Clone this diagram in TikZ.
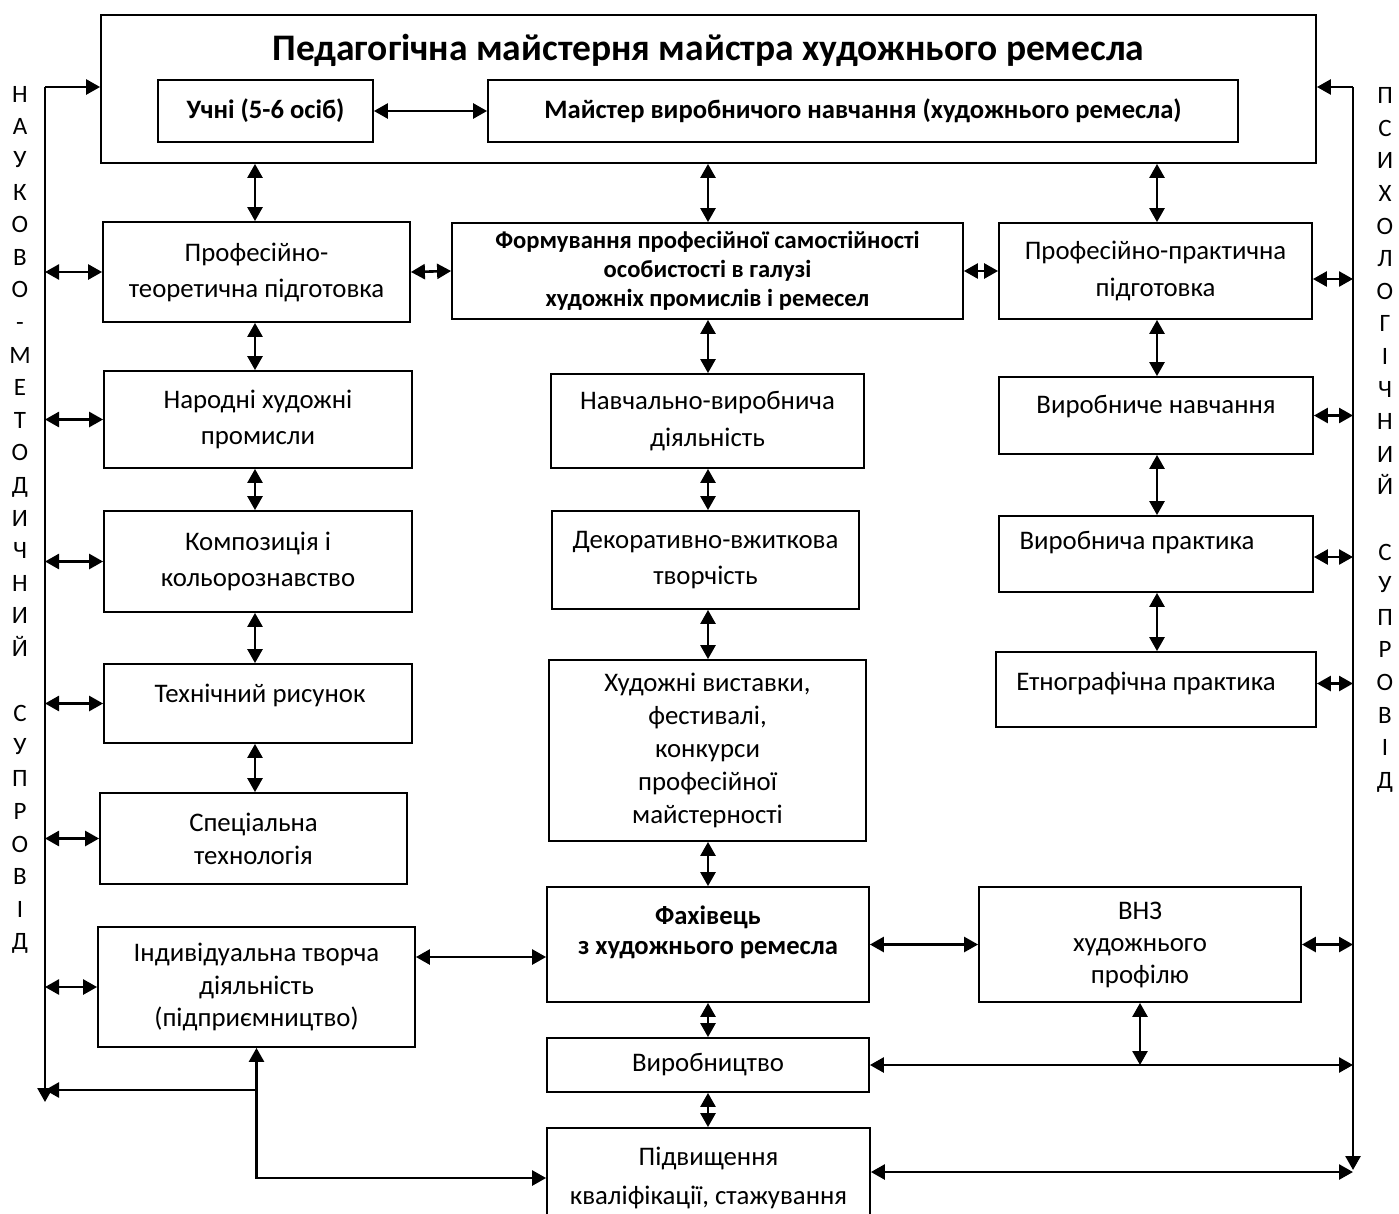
\documentclass[tikz,border=0pt]{standalone}
\usepackage{fontspec}
\setmainfont{Carlito}
\usetikzlibrary{arrows.meta}
\newcommand\fsz[2]{\fontsize{#1}{#2}\selectfont}
\begin{document}
\begin{tikzpicture}[x=1pt,y=-1pt,
  box/.style={draw, line width=1.8pt, inner sep=0pt, align=center, font=\fsz{26.8}{36}},
  bbox/.style={box, font=\bfseries\fsz{26.6}{30}},
  txt/.style={inner sep=0pt, align=center, font=\fsz{26.8}{36}},
  dbl/.style={{Triangle[length=14pt,width=15pt]}-{Triangle[length=14pt,width=15pt]}, line width=2.6pt},
  arr/.style={-{Triangle[length=14pt,width=15pt]}, line width=2.6pt},
  side/.style={inner sep=0pt, align=center, font=\fsz{25}{32.6}}
]
\useasboundingbox (0,0) rectangle (1399,1213);

% top block
\node[box, minimum width=1215pt, minimum height=148pt] (outer) at (708.5,89) {};
\node[inner sep=0pt, font=\bfseries\fsz{37.5}{40}] (title) at (708.5,50) {Педагогічна майстерня майстра художнього ремесла};
\node[bbox, minimum width=215pt, minimum height=62pt] (uchni) at (265.5,111) {Учні (5-6 осіб)};
\node[bbox, minimum width=750pt, minimum height=62pt] (mayster) at (863,111) {Майстер виробничого навчання (художнього ремесла)};

% left column
\node[box, minimum width=307pt, minimum height=100pt] (profteor) at (256.5,272) {Професійно-\\теоретична підготовка};
\node[box, minimum width=308pt, minimum height=97pt] (narod) at (258,419.5) {Народні художні\\промисли};
\node[box, minimum width=308pt, minimum height=101pt] (komp) at (258,561.5) {Композиція і\\кольорознавство};
\node[box, minimum width=308pt, minimum height=79pt] (tekhn) at (258,703.5) {};
\node[txt] (tekhnt) at (260,695) {Технічний рисунок};
\node[box, minimum width=307pt, minimum height=91pt, font=\fsz{26.8}{33}] (spec) at (253.5,838.5) {Спеціальна\\технологія};
\node[box, minimum width=317pt, minimum height=120pt, font=\fsz{26.8}{32.5}] (indiv) at (256.5,987) {Індивідуальна творча\\діяльність\\(підприємництво)};

% middle column
\node[bbox, minimum width=511pt, minimum height=96pt, font=\bfseries\fsz{24.6}{29}] (form) at (707.5,271) {Формування професійної самостійності\\особистості в галузі\\художніх промислів і ремесел};
\node[box, minimum width=313pt, minimum height=94pt, font=\fsz{26.8}{37}] (navch) at (707.5,421) {Навчально-виробнича\\діяльність};
\node[box, minimum width=307pt, minimum height=98pt] (dekor) at (705.5,560) {Декоративно-вжиткова\\творчість};
\node[box, minimum width=317pt, minimum height=181pt, font=\fsz{26.8}{33}] (khud) at (707.5,750.5) {Художні виставки,\\фестивалі,\\конкурси\\професійної\\майстерності};
\node[box, minimum width=322pt, minimum height=115pt] (fakh) at (708,944.5) {};
\node[txt, font=\bfseries\fsz{26.6}{30}] (fakht) at (708,932) {Фахівець\\з художнього ремесла};
\node[box, minimum width=322pt, minimum height=54pt] (vyrob) at (708,1065) {Виробництво};
\node[box, minimum width=323pt, minimum height=100pt, font=\fsz{26.8}{39}] (pidv) at (708.5,1178) {Підвищення\\кваліфікації, стажування};

% right column
\node[box, minimum width=313pt, minimum height=96pt, font=\fsz{26.8}{37}] (profpr) at (1155.5,271) {Професійно-практична\\підготовка};
\node[box, minimum width=314pt, minimum height=77pt] (vnav) at (1156,415.5) {};
\node[txt] (vnavt) at (1156,407) {Виробниче навчання};
\node[box, minimum width=314pt, minimum height=76pt] (vprak) at (1156,554) {};
\node[txt] (vprakt) at (1137,543) {Виробнича практика};
\node[box, minimum width=320pt, minimum height=75pt] (etno) at (1156,689.5) {};
\node[txt] (etnot) at (1146,683) {Етнографічна практика};
\node[box, minimum width=322pt, minimum height=115pt, font=\fsz{26.8}{32}] (vnz) at (1140,944.5) {ВНЗ\\художнього\\профілю};

% side texts
\node[side] (lefttext) at (20,520) {Н\\А\\У\\К\\О\\В\\О\\-\\М\\Е\\Т\\О\\Д\\И\\Ч\\Н\\И\\Й\\[32.6pt]С\\У\\П\\Р\\О\\В\\І\\Д};
\node[side] (righttext) at (1385,440) {П\\С\\И\\Х\\О\\Л\\О\\Г\\І\\Ч\\Н\\И\\Й\\[32.6pt]С\\У\\П\\Р\\О\\В\\І\\Д};

% side lines
\coordinate (ltop) at (45,87);
\coordinate (lbot) at (45,1102);
\coordinate (rtop) at (1353,87);
\coordinate (rbot) at (1353,1170);
\coordinate (lc) at (255,0);
\coordinate (mc) at (708,0);
\coordinate (rc) at (1157,0);

\draw[arr] (ltop) -- (lbot);
\draw[arr] (ltop) -- (ltop -| outer.west);
\draw[arr] (rtop) -- (rbot);
\draw[arr] (rtop) -- (rtop -| outer.east);

% top inner arrow
\draw[dbl] (uchni.east) -- (mayster.west);

% vertical arrows
\draw[dbl] (outer.south -| lc) -- (profteor.north -| lc);
\draw[dbl] (profteor.south -| lc) -- (narod.north -| lc);
\draw[dbl] (narod.south -| lc) -- (komp.north -| lc);
\draw[dbl] (komp.south -| lc) -- (tekhn.north -| lc);
\draw[dbl] (tekhn.south -| lc) -- (spec.north -| lc);

\draw[dbl] (outer.south -| mc) -- (form.north -| mc);
\draw[dbl] (form.south -| mc) -- (navch.north -| mc);
\draw[dbl] (navch.south -| mc) -- (dekor.north -| mc);
\draw[dbl] (dekor.south -| mc) -- (khud.north -| mc);
\draw[dbl] (khud.south -| mc) -- (fakh.north -| mc);
\draw[dbl] (fakh.south -| mc) -- (vyrob.north -| mc);
\draw[dbl] (vyrob.south -| mc) -- (pidv.north -| mc);

\draw[dbl] (outer.south -| rc) -- (profpr.north -| rc);
\draw[dbl] (profpr.south -| rc) -- (vnav.north -| rc);
\draw[dbl] (vnav.south -| rc) -- (vprak.north -| rc);
\draw[dbl] (vprak.south -| rc) -- (etno.north -| rc);

% horizontal arrows
\draw[dbl] (profteor.east) -- (form.west);
\draw[dbl] (form.east) -- (profpr.west);

\draw[dbl] (profteor.west -| ltop) -- (profteor.west);
\draw[dbl] (narod.west -| ltop) -- (narod.west);
\draw[dbl] (komp.west -| ltop) -- (komp.west);
\draw[dbl] (tekhn.west -| ltop) -- (tekhn.west);
\draw[dbl] (spec.west -| ltop) -- (spec.west);
\draw[dbl] (indiv.west -| ltop) -- (indiv.west);

\draw[dbl] ([yshift=-8pt]profpr.east) -- ([yshift=-8pt]profpr.east -| rtop);
\draw[dbl] (vnav.east) -- (vnav.east -| rtop);
\draw[dbl] ([yshift=-3pt]vprak.east) -- ([yshift=-3pt]vprak.east -| rtop);
\draw[dbl] ([yshift=6pt]etno.east) -- ([yshift=6pt]etno.east -| rtop);
\draw[dbl] (vnz.east) -- (vnz.east -| rtop);

\draw[dbl] ([yshift=30pt]indiv.east) -- ([yshift=30pt]indiv.east -| fakh.west);
\draw[dbl] (fakh.east) -- (vnz.west);
\draw[dbl] (vnz.south) -- (vnz.south |- vyrob.east);
\draw[dbl] (vyrob.east) -- (vyrob.east -| rtop);
\draw[dbl] ([yshift=6pt]pidv.east) -- ([yshift=6pt]pidv.east -| rtop);

% bottom left
\coordinate (br) at (indiv.south |- 0,1090);
\draw[dbl] (indiv.south) -- (indiv.south |- pidv.west) -- (pidv.west);
\draw[arr] (br) -- (br -| ltop);
\end{tikzpicture}
\end{document}
